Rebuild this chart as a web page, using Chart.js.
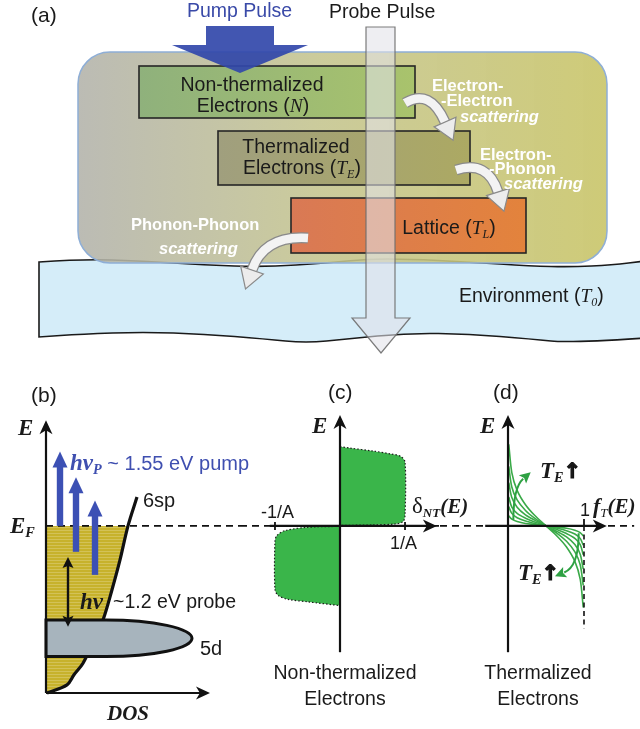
<!DOCTYPE html>
<html>
<head>
<meta charset="utf-8">
<title>Electron dynamics schematic</title>
<script src="https://cdn.jsdelivr.net/npm/chart.js@4.4.1/dist/chart.umd.min.js"></script>
<style>
  body { margin: 0; background: #fff; }
  #page { position: relative; width: 640px; height: 729px; overflow: hidden;
          font-family: "Liberation Sans", Arial, sans-serif; color: #1a1a1a; }
  canvas { position: absolute; }
  .t { position: absolute; white-space: nowrap; line-height: 1; }
  .c { transform: translate(-50%, -50%); }
  .l { transform: translateY(-50%); }
  .w { color: #fff; font-weight: bold; font-size: 16.5px; }
  .s { font-family: "Liberation Serif", "Times New Roman", serif; font-weight: bold; font-style: italic; }
  .i { font-family: "Liberation Serif", "Times New Roman", serif; font-style: italic; }
  .sub { font-size: 0.62em; position: relative; top: 0.3em; }
  .up { font-weight: bold; font-size: 21px; font-family: "DejaVu Sans", sans-serif; -webkit-text-stroke: 1.2px #111; }
</style>
</head>
<body>
<div id="page">
  <canvas id="chartA" width="640" height="380" style="left:0;top:0"></canvas>
  <canvas id="chartB" width="240" height="317" style="left:0;top:401px"></canvas>
  <canvas id="chartC" width="200" height="317" style="left:240px;top:401px"></canvas>
  <canvas id="chartD" width="200" height="317" style="left:440px;top:401px"></canvas>

  <!-- (a) -->
  <div class="t l" style="left:31px;top:14px;font-size:21px">(a)</div>
  <div class="t l" style="left:187px;top:11px;font-size:19.5px;color:#3a4aa8">Pump Pulse</div>
  <div class="t l" style="left:329px;top:12px;font-size:19.5px">Probe Pulse</div>
  <div class="t c" style="left:252px;top:85px;font-size:19.5px">Non-thermalized</div>
  <div class="t c" style="left:253px;top:106px;font-size:19.5px">Electrons (<span class="i">N</span>)</div>
  <div class="t c" style="left:296px;top:147px;font-size:19.5px">Thermalized</div>
  <div class="t c" style="left:302px;top:168px;font-size:19.5px">Electrons (<span class="i">T<span class="sub">E</span></span>)</div>
  <div class="t c" style="left:449px;top:228px;font-size:19.5px">Lattice (<span class="i">T<span class="sub">L</span></span>)</div>
  <div class="t l" style="left:459px;top:296px;font-size:19.5px">Environment (<span class="i">T<span class="sub">0</span></span>)</div>
  <div class="t l w" style="left:432px;top:85px">Electron-</div>
  <div class="t l w" style="left:441px;top:100px">-Electron</div>
  <div class="t l w" style="left:460px;top:116px;font-style:italic">scattering</div>
  <div class="t l w" style="left:480px;top:154px">Electron-</div>
  <div class="t l w" style="left:489px;top:168px">-Phonon</div>
  <div class="t l w" style="left:504px;top:183px;font-style:italic">scattering</div>
  <div class="t l w" style="left:131px;top:224px">Phonon-Phonon</div>
  <div class="t l w" style="left:159px;top:248px;font-style:italic">scattering</div>

  <!-- (b) -->
  <div class="t l" style="left:31px;top:394px;font-size:21px">(b)</div>
  <div class="t l s" style="left:18px;top:427px;font-size:23px">E</div>
  <div class="t l s" style="left:10px;top:525px;font-size:23px">E<span class="sub">F</span></div>
  <div class="t l" style="left:70px;top:462px;color:#3f4fb0"><span class="s" style="font-size:23px">hν<span class="sub">P</span></span><span style="font-size:20px"> ~ 1.55 eV pump</span></div>
  <div class="t l" style="left:143px;top:500px;font-size:20px">6sp</div>
  <div class="t l s" style="left:80px;top:601px;font-size:23px">hν</div>
  <div class="t l" style="left:113px;top:602px;font-size:19.5px">~1.2 eV probe</div>
  <div class="t l" style="left:200px;top:648px;font-size:20px">5d</div>
  <div class="t l s" style="left:107px;top:713px;font-size:21px">DOS</div>

  <!-- (c) -->
  <div class="t l" style="left:328px;top:391px;font-size:21px">(c)</div>
  <div class="t l s" style="left:312px;top:425px;font-size:23px">E</div>
  <div class="t l" style="left:261px;top:512px;font-size:18px">-1/A</div>
  <div class="t l" style="left:390px;top:543px;font-size:18px">1/A</div>
  <div class="t l" style="left:412px;top:505px"><span style="font-family:'Liberation Serif',serif;font-size:23px">δ</span><span class="s sub" style="font-size:13px">NT</span><span class="s" style="font-size:21px">(E)</span></div>
  <div class="t c" style="left:345px;top:673px;font-size:19.5px">Non-thermalized</div>
  <div class="t c" style="left:345px;top:699px;font-size:19.5px">Electrons</div>

  <!-- (d) -->
  <div class="t l" style="left:493px;top:391px;font-size:21px">(d)</div>
  <div class="t l s" style="left:480px;top:425px;font-size:23px">E</div>
  <div class="t c" style="left:585px;top:510px;font-size:18px">1</div>
  <div class="t l" style="left:593px;top:506px"><span class="s" style="font-size:22px">f</span><span class="i sub" style="font-size:13px">T</span><span class="s" style="font-size:21px">(E)</span></div>
  <div class="t l" style="left:540px;top:470px"><span class="s" style="font-size:23px">T<span class="sub">E</span></span><span class="up">↑</span></div>
  <div class="t l" style="left:518px;top:572px"><span class="s" style="font-size:23px">T<span class="sub">E</span></span><span class="up">↑</span></div>
  <div class="t c" style="left:538px;top:673px;font-size:19.5px">Thermalized</div>
  <div class="t c" style="left:538px;top:699px;font-size:19.5px">Electrons</div>
</div>

<script>
// ---- (b) density of states of gold, energies in eV relative to E_F ----
const sixspE   = [-3.48, -3.31, -3.10, -2.86, -2.38, -1.96, -1.33, -0.71, 0.0, 0.6];
const sixspDOS = [0.1, 2.1, 2.8, 3.7, 4.8, 5.7, 6.6, 7.4, 8.2, 9.1];
const dBandE   = [-1.96, -2.72];      // top, bottom of the 5d band
const dBandDOS = [6.0, 14.6];         // start of the lobe, tip of the lobe
const pumpDOS   = [1.4, 3.0, 4.9];
const pumpFromE = [0, -0.54, -1.02];
const pumpPhotonE = 1.55;
const probeDOS = 2.2;
const probeE   = [-0.65, -2.1];
const dosAxisE = [-3.48, 2.2];
const dosAxisMax = 16.4;

// ---- (c) non-thermal distribution, delta in units of 1/A ----
const ntUpperDelta = [0, 0.15, 0.5, 0.77, 0.93, 1.0, 1.0, 0.97, 0.85, 0.5, 0];
const ntUpperE     = [1.65, 1.62, 1.56, 1.50, 1.45, 1.33, 0.22, 0.09, 0.04, 0.02, 0.01];
const ntLowerDelta = [0, -0.5, -0.85, -0.97, -1.0, -1.0, -0.95, -0.8, -0.5, 0];
const ntLowerE     = [-0.01, -0.03, -0.1, -0.2, -0.32, -1.32, -1.45, -1.53, -1.58, -1.66];
const ntTicks = [-1, 1];
const ntAxisE = [-2.63, 2.31];
const ntAxisDelta = [-1.08, 1.49];

// ---- (d) thermalized occupation for rising T_E ----
const fermiOcc = [0.99, 0.95, 0.88, 0.77, 0.65, 0.5, 0.35, 0.23, 0.12, 0.05, 0.01];
const fermiE1 = [-1.70, -1.11, -0.74, -0.44, -0.22, 0, 0.22, 0.44, 0.74, 1.11, 1.70];
const fermiE2 = [-1.24, -0.81, -0.54, -0.32, -0.16, 0, 0.16, 0.32, 0.54, 0.81, 1.24];
const fermiE3 = [-0.90, -0.59, -0.39, -0.23, -0.12, 0, 0.12, 0.23, 0.39, 0.59, 0.90];
const fermiE4 = [-0.60, -0.39, -0.26, -0.16, -0.08, 0, 0.08, 0.16, 0.26, 0.39, 0.60];
const fermiE5 = [-0.40, -0.26, -0.17, -0.10, -0.05, 0, 0.05, 0.10, 0.17, 0.26, 0.40];
const fermiE6 = [-0.21, -0.14, -0.09, -0.05, -0.03, 0, 0.03, 0.05, 0.09, 0.14, 0.21];
const fermiCurves = [fermiE1, fermiE2, fermiE3, fermiE4, fermiE5, fermiE6];
const occAxisE = [-2.63, 2.31];
const occAxisF = [-0.3, 1.3];
const occTicks = [1];
// T_E arrows: start, bend, head base  as [f, E]
const tRiseUpper = [[0.07, 0.12], [0.07, 0.8], [0.2, 0.98]];
const tRiseLower = [[0.93, -0.155], [0.93, -0.85], [0.74, -0.97]];

// ---- (a) schematic layout (diagram units) ----
const envTopEdge = [[39,262],[82,259],[143,261],[204,265],[265,267],[327,263],[367,259],[408,259],[469,262],[531,266],[571,267],[612,265],[645,261]];
const envBottomEdge = [[39,337],[82,334],[143,332],[204,334],[265,339],[306,343],[347,339],[408,333],[469,334],[531,339],[571,343],[645,338]];
const sampleBox = [78, 52, 607, 263];
const stageBoxes = [
  { r: [139, 66, 415, 118], c: ['#8fb17c', '#a9c36c'] },
  { r: [218, 131, 470, 185], c: ['#a09f7e', '#aca963'] },
  { r: [291, 198, 526, 253], c: ['#d97955', '#e3833c'] }
];
const scatterArrows = [
  [[405, 103], [430, 88], [445, 122]],
  [[456, 170], [488, 160], [498, 192]],
  [[308, 238], [264, 235], [252, 270]]
];
const pumpArrow = [[206,26],[274,26],[274,45],[308,45],[240,73],[172,45],[206,45]];
const probeArrow = [[366,27],[395,27],[395,318],[410,318],[381,353],[352,318],[366,318]];

function pt(chart, x, y) {
  return [chart.scales.x.getPixelForValue(x), chart.scales.y.getPixelForValue(y)];
}

function seg(ctx, a, b) {
  ctx.beginPath(); ctx.moveTo(a[0], a[1]); ctx.lineTo(b[0], b[1]); ctx.stroke();
}

function head(ctx, tip, from, len, half, notch) {
  const dx = tip[0] - from[0], dy = tip[1] - from[1];
  const d = Math.hypot(dx, dy), ux = dx / d, uy = dy / d;
  const bx = tip[0] - ux * len, by = tip[1] - uy * len;
  ctx.beginPath();
  ctx.moveTo(tip[0], tip[1]);
  ctx.lineTo(bx - uy * half, by + ux * half);
  ctx.lineTo(tip[0] - ux * len * notch, tip[1] - uy * len * notch);
  ctx.lineTo(bx + uy * half, by - ux * half);
  ctx.closePath();
  ctx.fill();
}

function axisArrow(ctx, a, tip) {
  ctx.save();
  ctx.strokeStyle = '#111'; ctx.fillStyle = '#111'; ctx.lineWidth = 2.2; ctx.setLineDash([]);
  const d = Math.hypot(tip[0] - a[0], tip[1] - a[1]);
  const end = [tip[0] - (tip[0] - a[0]) / d * 8, tip[1] - (tip[1] - a[1]) / d * 8];
  seg(ctx, a, end);
  head(ctx, tip, a, 14, 6.5, 0.72);
  ctx.restore();
}

function dashed(ctx, a, b, dash) {
  ctx.save();
  ctx.strokeStyle = '#111'; ctx.lineWidth = 1.6; ctx.setLineDash(dash || [7, 5]);
  seg(ctx, a, b);
  ctx.restore();
}

function smooth(ctx, p, first) {
  if (first) ctx.moveTo(p[0][0], p[0][1]); else ctx.lineTo(p[0][0], p[0][1]);
  for (let i = 1; i < p.length - 1; i++) {
    ctx.quadraticCurveTo(p[i][0], p[i][1], (p[i][0] + p[i + 1][0]) / 2, (p[i][1] + p[i + 1][1]) / 2);
  }
  ctx.lineTo(p[p.length - 1][0], p[p.length - 1][1]);
}

function config(xMin, xMax, yMin, yMax, reverseY, datasets, hooks) {
  return {
    type: 'scatter',
    data: { datasets: datasets },
    options: {
      responsive: false,
      animation: false,
      events: [],
      layout: { padding: 0 },
      plugins: { legend: { display: false }, tooltip: { enabled: false } },
      scales: {
        x: { type: 'linear', min: xMin, max: xMax, display: false },
        y: { type: 'linear', min: yMin, max: yMax, reverse: reverseY, display: false }
      }
    },
    plugins: [Object.assign({ id: 'draw' }, hooks)]
  };
}

// ---------------- (a) ----------------
new Chart(document.getElementById('chartA'), config(0, 640, 0, 380, true, [], {
  afterDatasetsDraw(chart) {
    const ctx = chart.ctx;
    const P = p => pt(chart, p[0], p[1]);
    ctx.save();

    // environment band
    ctx.beginPath();
    smooth(ctx, envTopEdge.map(P), true);
    smooth(ctx, envBottomEdge.slice().reverse().map(P), false);
    ctx.closePath();
    ctx.fillStyle = '#d5edf9';
    ctx.fill();
    ctx.strokeStyle = '#1a1a1a'; ctx.lineWidth = 1.6;
    ctx.stroke();

    // sample
    const a = P([sampleBox[0], sampleBox[1]]), b = P([sampleBox[2], sampleBox[3]]);
    const g = ctx.createLinearGradient(a[0], 0, b[0], 0);
    g.addColorStop(0, 'rgba(178,178,170,0.88)');
    g.addColorStop(0.45, 'rgba(196,196,142,0.88)');
    g.addColorStop(1, 'rgba(201,197,105,0.9)');
    ctx.beginPath();
    ctx.roundRect(a[0], a[1], b[0] - a[0], b[1] - a[1], 32);
    ctx.fillStyle = g; ctx.fill();
    ctx.strokeStyle = '#8eaed6'; ctx.lineWidth = 1.5; ctx.stroke();

    // energy reservoirs
    stageBoxes.forEach(s => {
      const p0 = P([s.r[0], s.r[1]]), p1 = P([s.r[2], s.r[3]]);
      const sg = ctx.createLinearGradient(p0[0], 0, p1[0], 0);
      sg.addColorStop(0, s.c[0]); sg.addColorStop(1, s.c[1]);
      ctx.fillStyle = sg;
      ctx.fillRect(p0[0], p0[1], p1[0] - p0[0], p1[1] - p0[1]);
      ctx.strokeStyle = '#262626'; ctx.lineWidth = 1.6;
      ctx.strokeRect(p0[0], p0[1], p1[0] - p0[0], p1[1] - p0[1]);
    });

    // scattering arrows
    scatterArrows.forEach(arr => {
      const [p0, p1, p2] = arr.map(P);
      ctx.beginPath();
      ctx.moveTo(p0[0], p0[1]); ctx.quadraticCurveTo(p1[0], p1[1], p2[0], p2[1]);
      ctx.lineCap = 'butt';
      ctx.strokeStyle = '#8a8a8a'; ctx.lineWidth = 11; ctx.stroke();
      ctx.strokeStyle = '#f3f3f3'; ctx.lineWidth = 8.5; ctx.stroke();
      const dx = p2[0] - p1[0], dy = p2[1] - p1[1], d = Math.hypot(dx, dy);
      const ux = dx / d, uy = dy / d;
      const tip = [p2[0] + ux * 20, p2[1] + uy * 20];
      ctx.beginPath();
      ctx.moveTo(p2[0] - uy * 12, p2[1] + ux * 12);
      ctx.lineTo(tip[0], tip[1]);
      ctx.lineTo(p2[0] + uy * 12, p2[1] - ux * 12);
      ctx.closePath();
      ctx.fillStyle = '#ececec'; ctx.fill();
      ctx.strokeStyle = '#8a8a8a'; ctx.lineWidth = 1.2; ctx.stroke();
    });

    // pump pulse
    ctx.beginPath();
    pumpArrow.map(P).forEach((p, i) => i ? ctx.lineTo(p[0], p[1]) : ctx.moveTo(p[0], p[1]));
    ctx.closePath();
    ctx.fillStyle = 'rgba(50,72,170,0.92)'; ctx.fill();

    // probe pulse
    ctx.beginPath();
    probeArrow.map(P).forEach((p, i) => i ? ctx.lineTo(p[0], p[1]) : ctx.moveTo(p[0], p[1]));
    ctx.closePath();
    ctx.fillStyle = 'rgba(226,226,232,0.58)'; ctx.fill();
    ctx.strokeStyle = 'rgba(110,110,110,0.9)'; ctx.lineWidth = 1.2; ctx.stroke();
    ctx.restore();
  }
}));

// ---------------- (b) ----------------
const stripe = document.createElement('canvas');
stripe.width = 4; stripe.height = 3;
const sctx = stripe.getContext('2d');
sctx.fillStyle = '#c7b22c'; sctx.fillRect(0, 0, 4, 3);
sctx.fillStyle = '#d3c257'; sctx.fillRect(0, 0, 4, 1);

new Chart(document.getElementById('chartB'), config(-4.6, 19.4, -4.0, 2.6, false, [{
  data: sixspE.map((e, i) => ({ x: sixspDOS[i], y: e })),
  showLine: true, borderColor: '#111', borderWidth: 3.2, pointRadius: 0, tension: 0.35, clip: false
}], {
  beforeDatasetsDraw(chart) {
    const ctx = chart.ctx;
    ctx.save();
    ctx.beginPath();
    let p = pt(chart, 0, sixspE[0]);
    ctx.moveTo(p[0], p[1]);
    sixspE.forEach((e, i) => {
      if (e <= 0) { p = pt(chart, sixspDOS[i], e); ctx.lineTo(p[0], p[1]); }
    });
    p = pt(chart, 0, 0); ctx.lineTo(p[0], p[1]);
    ctx.closePath();
    ctx.fillStyle = ctx.createPattern(stripe, 'repeat');
    ctx.fill();
    ctx.restore();
  },
  afterDatasetsDraw(chart) {
    const ctx = chart.ctx;
    ctx.save();
    dashed(ctx, pt(chart, 0, 0), pt(chart, chart.scales.x.max, 0));

    // 5d band
    const top = pt(chart, 0, dBandE[0]), bot = pt(chart, 0, dBandE[1]);
    const xc = chart.scales.x.getPixelForValue(dBandDOS[0]);
    const xt = chart.scales.x.getPixelForValue(dBandDOS[1]);
    const ry = (bot[1] - top[1]) / 2;
    ctx.beginPath();
    ctx.moveTo(top[0], top[1]);
    ctx.lineTo(xc, top[1]);
    ctx.ellipse(xc, top[1] + ry, xt - xc, ry, 0, -Math.PI / 2, Math.PI / 2);
    ctx.lineTo(bot[0], bot[1]);
    ctx.closePath();
    ctx.fillStyle = '#a7b4bd'; ctx.fill();
    ctx.strokeStyle = '#111'; ctx.lineWidth = 3; ctx.stroke();

    // pump transitions
    ctx.fillStyle = '#3c50b4';
    pumpDOS.forEach((d, i) => {
      const from = pt(chart, d, pumpFromE[i]);
      const tip = pt(chart, d, pumpFromE[i] + pumpPhotonE);
      ctx.fillRect(from[0] - 3.2, tip[1] + 14, 6.4, from[1] - tip[1] - 14);
      head(ctx, tip, from, 16, 7.5, 1);
    });

    // probe transition
    const pa = pt(chart, probeDOS, probeE[0]), pb = pt(chart, probeDOS, probeE[1]);
    ctx.strokeStyle = '#111'; ctx.fillStyle = '#111'; ctx.lineWidth = 2.4;
    seg(ctx, [pa[0], pa[1] + 8], [pb[0], pb[1] - 8]);
    head(ctx, pa, pb, 11, 5.5, 0.8);
    head(ctx, pb, pa, 11, 5.5, 0.8);

    // axes
    const o = pt(chart, 0, dosAxisE[0]);
    axisArrow(ctx, o, pt(chart, 0, dosAxisE[1]));
    axisArrow(ctx, o, pt(chart, dosAxisMax, dosAxisE[0]));
    ctx.restore();
  }
}));

// ---------------- (c) ----------------
const ntStyle = {
  showLine: true, fill: 'shape', backgroundColor: '#3ab54a', borderColor: '#1d1d1d',
  borderWidth: 1.2, borderDash: [1.5, 2], pointRadius: 0, tension: 0.3, clip: false
};
new Chart(document.getElementById('chartC'), config(-1.538, 1.538, -4.0, 2.6, false, [
  Object.assign({ data: ntUpperE.map((e, i) => ({ x: ntUpperDelta[i], y: e })) }, ntStyle),
  Object.assign({ data: ntLowerE.map((e, i) => ({ x: ntLowerDelta[i], y: e })) }, ntStyle)
], {
  afterDatasetsDraw(chart) {
    const ctx = chart.ctx;
    ctx.save();
    dashed(ctx, pt(chart, chart.scales.x.min, 0), pt(chart, chart.scales.x.max, 0));
    axisArrow(ctx, pt(chart, 0, ntAxisE[0]), pt(chart, 0, ntAxisE[1]));
    axisArrow(ctx, pt(chart, ntAxisDelta[0], 0), pt(chart, ntAxisDelta[1], 0));
    ctx.strokeStyle = '#111'; ctx.lineWidth = 1.8;
    ntTicks.forEach(t => {
      const p = pt(chart, t, 0);
      seg(ctx, [p[0], p[1] - 4], [p[0], p[1] + 4]);
    });
    ctx.restore();
  }
}));

// ---------------- (d) ----------------
new Chart(document.getElementById('chartD'), config(-0.895, 1.737, -4.0, 2.6, false,
  fermiCurves.map(es => ({
    data: es.map((e, i) => ({ x: fermiOcc[i], y: e })),
    showLine: true, borderColor: '#3aa948', borderWidth: 1.6, pointRadius: 0, tension: 0.3, clip: false
  })), {
  afterDatasetsDraw(chart) {
    const ctx = chart.ctx;
    ctx.save();
    dashed(ctx, pt(chart, chart.scales.x.min, 0), pt(chart, 1.66, 0));
    occTicks.forEach(t => {
      dashed(ctx, pt(chart, t, 0), pt(chart, t, -2.13), [5, 3.5]);
      ctx.strokeStyle = '#111'; ctx.lineWidth = 1.8;
      const p = pt(chart, t, 0);
      seg(ctx, [p[0], p[1] - 7], p);
    });
    axisArrow(ctx, pt(chart, 0, occAxisE[0]), pt(chart, 0, occAxisE[1]));
    axisArrow(ctx, pt(chart, occAxisF[0], 0), pt(chart, occAxisF[1], 0));

    ctx.strokeStyle = '#2ea143'; ctx.fillStyle = '#2ea143'; ctx.lineWidth = 2;
    [tRiseUpper, tRiseLower].forEach(arc => {
      const [p0, p1, p2] = arc.map(a => pt(chart, a[0], a[1]));
      ctx.beginPath();
      ctx.moveTo(p0[0], p0[1]); ctx.quadraticCurveTo(p1[0], p1[1], p2[0], p2[1]);
      ctx.stroke();
      const dx = p2[0] - p1[0], dy = p2[1] - p1[1], d = Math.hypot(dx, dy);
      head(ctx, [p2[0] + dx / d * 10, p2[1] + dy / d * 10], p2, 11, 5.5, 0.8);
    });
    ctx.restore();
  }
}));
</script>
</body>
</html>
